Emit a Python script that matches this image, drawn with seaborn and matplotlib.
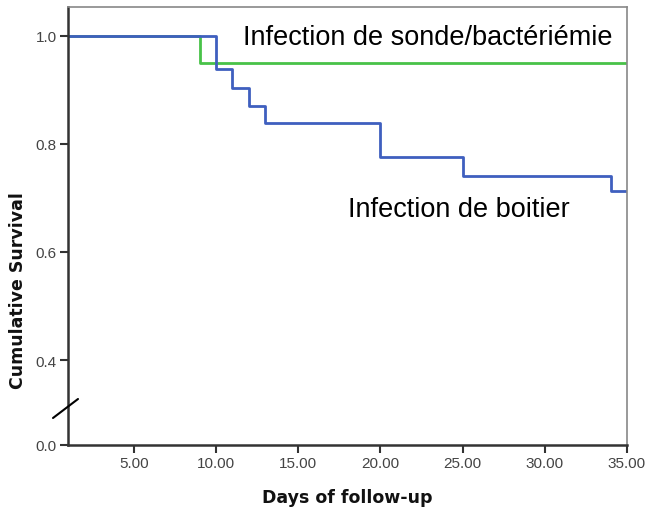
import matplotlib
matplotlib.use("Agg")
import matplotlib.pyplot as plt
import seaborn as sns
import pandas as pd
from matplotlib.lines import Line2D

# Data
sonde_days = [0, 9, 35]
sonde_surv = [1.0, 0.95, 0.95]
boitier_days = [0, 10, 11, 12, 13, 20, 25, 34, 35]
boitier_surv = [1.0, 0.938, 0.904, 0.870, 0.839, 0.776, 0.741, 0.712, 0.712]
x_ticks = [5, 10, 15, 20, 25, 30, 35]
x_tick_labels = ["5.00", "10.00", "15.00", "20.00", "25.00", "30.00", "35.00"]
y_tick_labels = ["0.0", "0.4", "0.6", "0.8", "1.0"]
label_sonde = "Infection de sonde/bactériémie"
label_boitier = "Infection de boitier"

df = pd.concat([
    pd.DataFrame({"day": sonde_days, "surv": sonde_surv, "group": "sonde"}),
    pd.DataFrame({"day": boitier_days, "surv": boitier_surv, "group": "boitier"}),
])

sns.set_theme(style="white")
plt.rcParams["font.family"] = ["Liberation Sans", "DejaVu Sans"]

fig = plt.figure(figsize=(6.48, 5.1), dpi=100)
ax = fig.add_axes([68 / 648, 1 - 446 / 510, 559 / 648, 438 / 510])

sns.lineplot(data=df, x="day", y="surv", hue="group", estimator=None,
             drawstyle="steps-post", palette={"sonde": "#48c248", "boitier": "#3f5fbf"},
             linewidth=2.0, legend=False, ax=ax, sort=False)

# y axis with a break between 0.0 and 0.4
y_zero_pos = 0.243
ax.set_ylim(y_zero_pos, 1.053)
ax.set_yticks([y_zero_pos, 0.4, 0.6, 0.8, 1.0])
ax.set_yticklabels(y_tick_labels)
ax.set_xlim(1, 35)
ax.set_xticks(x_ticks)
ax.set_xticklabels(x_tick_labels)

ax.tick_params(axis="both", which="both", direction="out", length=6, width=1.5,
               color="#333333", labelcolor="#444444", labelsize=11, pad=2,
               left=True, bottom=True)

for side in ["left", "bottom"]:
    ax.spines[side].set_color("#333333")
    ax.spines[side].set_linewidth(1.8)
for side in ["top", "right"]:
    ax.spines[side].set_color("#888888")
    ax.spines[side].set_linewidth(1.2)

ax.set_xlabel("Days of follow-up", fontsize=12.5, fontweight="bold", labelpad=13,
              family=["DejaVu Sans"], color="#111111")
ax.set_ylabel("Cumulative Survival", fontsize=12.5, fontweight="bold",
              family=["DejaVu Sans"], color="#111111")
ax.yaxis.set_label_coords(-0.073, 0.356)

ax.text(243 / 648, 1 - 38 / 510, label_sonde, transform=fig.transFigure,
        fontsize=19.5, color="black", va="center", ha="left")
ax.text(348 / 648, 1 - 210 / 510, label_boitier, transform=fig.transFigure,
        fontsize=19.5, color="black", va="center", ha="left")

fig.add_artist(Line2D([53 / 648, 78 / 648], [1 - 419 / 510, 1 - 400 / 510],
                      color="black", linewidth=1.5))

fig.savefig("out.png", dpi=100)
